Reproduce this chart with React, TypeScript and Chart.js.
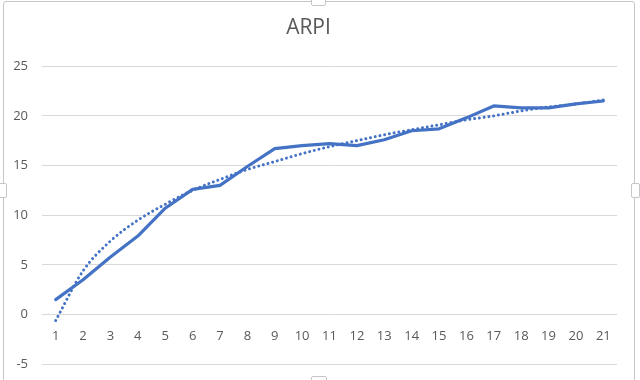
import React, { useEffect, useRef } from "react";
import { Chart, registerables } from "chart.js";

Chart.register(...registerables);

const categories = ["1","2","3","4","5","6","7","8","9","10","11","12","13","14","15","16","17","18","19","20","21"];
const arpiValues = [1.5, 3.5, 5.8, 7.9, 10.7, 12.6, 13.0, 14.9, 16.7, 17.0, 17.2, 17.0, 17.6, 18.5, 18.7, 19.8, 21.0, 20.8, 20.8, 21.2, 21.5];
const trendValues = [-0.6, 4.4, 7.4, 9.5, 11.1, 12.5, 13.6, 14.6, 15.4, 16.2, 16.9, 17.5, 18.1, 18.6, 19.1, 19.6, 20.0, 20.5, 20.9, 21.2, 21.6];
const yMin = -5;
const yMax = 25;
const yStep = 5;
const titleText = "ARPI";

const BLUE = "#4472C4";
const TEXT = "#595959";
const GRID = "#d9d9d9";
const FRAME = "#c6c6c6";
const FONT = "'Open Sans', 'Noto Sans', sans-serif";

export default function App() {
  const ref = useRef<HTMLCanvasElement | null>(null);

  useEffect(() => {
    document.body.style.margin = "0";
    const canvas = ref.current;
    if (!canvas) return;
    const chart = new Chart(canvas, {
      type: "line",
      data: {
        labels: categories,
        datasets: [
          {
            label: "ARPI",
            data: arpiValues,
            borderColor: BLUE,
            backgroundColor: BLUE,
            borderWidth: 3.2,
            pointRadius: 0,
            tension: 0,
            borderJoinStyle: "round",
            borderCapStyle: "round",
          },
          {
            label: "Trend",
            data: trendValues,
            borderColor: BLUE,
            backgroundColor: BLUE,
            borderWidth: 3,
            pointRadius: 0,
            cubicInterpolationMode: "monotone",
            borderDash: [0.01, 4.8],
            borderCapStyle: "round",
          },
        ],
      },
      options: {
        animation: false,
        responsive: false,
        maintainAspectRatio: false,
        layout: { padding: { left: 0, right: 23, top: 0, bottom: 11 } },
        plugins: {
          legend: { display: false },
          tooltip: { enabled: false },
          title: {
            display: true,
            text: titleText,
            color: TEXT,
            font: { family: FONT, size: 21, weight: "normal", lineHeight: 1.2 },
            padding: { top: 15, bottom: 26 },
          },
        },
        scales: {
          x: {
            position: { y: 0 } as any,
            offset: true,
            grid: { display: false, drawTicks: false },
            border: { display: false },
            ticks: {
              color: TEXT,
              font: { family: FONT, size: 13 },
              padding: 14,
              maxRotation: 0,
              autoSkip: false,
            },
          },
          y: {
            min: yMin,
            max: yMax,
            grid: { color: GRID, lineWidth: 1, drawTicks: false },
            border: { display: false },
            ticks: {
              stepSize: yStep,
              color: TEXT,
              font: { family: FONT, size: 13 },
              padding: 14,
            },
            afterFit: (scale: any) => {
              scale.width = 42;
            },
          },
        },
      },
    });
    return () => chart.destroy();
  }, []);

  const handle = (style: React.CSSProperties): React.CSSProperties => ({
    position: "absolute",
    background: "#fff",
    border: `1px solid ${FRAME}`,
    borderRadius: 2,
    boxSizing: "border-box",
    ...style,
  });

  return (
    <div style={{ position: "relative", width: 640, height: 380, overflow: "hidden", background: "#fff" }}>
      <div
        style={{
          position: "absolute",
          left: 3,
          top: 1,
          width: 632,
          height: 400,
          border: `1px solid ${FRAME}`,
          borderRadius: 3,
          boxSizing: "border-box",
        }}
      />
      <canvas ref={ref} width={640} height={386} style={{ position: "absolute", left: 0, top: 0, width: 640, height: 386 }} />
      <div style={handle({ left: 311, top: -2, width: 15, height: 8 })} />
      <div style={handle({ left: -2, top: 183, width: 9, height: 15 })} />
      <div style={handle({ left: 631, top: 183, width: 9, height: 15 })} />
      <div style={handle({ left: 311, top: 376, width: 16, height: 8 })} />
    </div>
  );
}
